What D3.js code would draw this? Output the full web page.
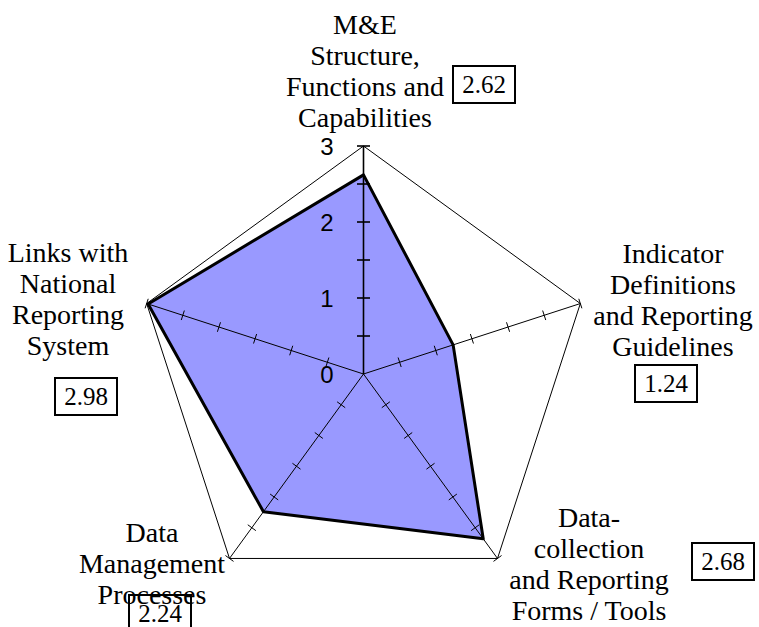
<!DOCTYPE html>
<html>
<head>
<meta charset="utf-8">
<script src="https://cdn.jsdelivr.net/npm/d3@7"></script>
<style>
  html, body { margin: 0; padding: 0; background: #fff; }
  svg { display: block; }
</style>
</head>
<body>
<svg id="chart" width="759" height="627"></svg>
<script>
// ---- data ----
const categories = [
  ["M&E", "Structure,", "Functions and", "Capabilities"],
  ["Indicator", "Definitions", "and Reporting", "Guidelines"],
  ["Data-", "collection", "and Reporting", "Forms / Tools"],
  ["Data", "Management", "Processes"],
  ["Links with", "National", "Reporting", "System"]
];
const values = [2.62, 1.24, 2.68, 2.24, 2.98];
const valueLabels = ["2.62", "1.24", "2.68", "2.24", "2.98"];
const axisTickLabels = [0, 1, 2, 3];
const minorTicks = [0.5, 1, 1.5, 2, 2.5, 3];

// ---- layout (positions, not data) ----
const cx = 363.5, cy = 374, R = 228;
const labelLayout = [
  { x: 365, y: 34 },
  { x: 673, y: 263 },
  { x: 589, y: 527 },
  { x: 152, y: 542 },
  { x: 68,  y: 262 }
];
const boxLayout = [
  { x: 453, y: 66 },
  { x: 635, y: 365 },
  { x: 692, y: 543 },
  { x: 129, y: 595 },
  { x: 55,  y: 378 }
];

const svg = d3.select("#chart");
const g = svg.append("g").attr("transform", `translate(${cx},${cy})`);

const r = d3.scaleLinear().domain([0, 3]).range([0, R]);
const n = categories.length;
const angle = d3.scaleLinear().domain([0, n]).range([0, 2 * Math.PI]);
const pt = (i, v) => {
  const a = angle(i);
  return [Math.sin(a) * r(v), -Math.cos(a) * r(v)];
};

// data polygon (fill)
const radial = d3.lineRadial()
  .angle((d, i) => angle(i))
  .radius(d => r(d))
  .curve(d3.curveLinearClosed);

g.append("path")
  .attr("d", radial(values))
  .attr("fill", "#9999ff")
  .attr("stroke", "none");

// outer pentagon
g.append("path")
  .attr("d", radial(categories.map(() => 3)))
  .attr("fill", "none")
  .attr("stroke", "#000")
  .attr("stroke-width", 1);

// spokes + ticks
categories.forEach((c, i) => {
  const [x2, y2] = pt(i, 3);
  g.append("line")
    .attr("x1", 0).attr("y1", 0).attr("x2", x2).attr("y2", y2)
    .attr("stroke", "#000")
    .attr("stroke-width", i === 0 ? 1.6 : 1);
  const a = angle(i);
  const px = Math.cos(a), py = Math.sin(a); // perpendicular
  const half = i === 0 ? 6.5 : 5;
  minorTicks.forEach(t => {
    const [x, y] = pt(i, t);
    g.append("line")
      .attr("x1", x - px * half).attr("y1", y - py * half)
      .attr("x2", x + px * half).attr("y2", y + py * half)
      .attr("stroke", "#000")
      .attr("stroke-width", i === 0 ? 1.6 : 1);
  });
});

// data polygon outline
g.append("path")
  .attr("d", radial(values))
  .attr("fill", "none")
  .attr("stroke", "#000")
  .attr("stroke-width", 3)
  .attr("stroke-linejoin", "round");

// value axis labels via d3 axis
const yAxisScale = d3.scaleLinear().domain([0, 3]).range([0, -R]);
const yAxis = d3.axisLeft(yAxisScale)
  .tickValues(axisTickLabels)
  .tickSize(0)
  .tickPadding(30)
  .tickFormat(d3.format("d"));
const ax = g.append("g").call(yAxis);
ax.select(".domain").remove();
ax.selectAll("text")
  .attr("font-family", "'Liberation Sans', Arial, sans-serif")
  .attr("font-size", 24)
  .attr("fill", "#000")
  .attr("dy", "0.36em");

// category labels
const serif = "'Liberation Serif', 'Times New Roman', serif";
categories.forEach((lines, i) => {
  const L = labelLayout[i];
  const t = svg.append("text")
    .attr("font-family", serif)
    .attr("font-size", 28)
    .attr("text-anchor", "middle")
    .attr("fill", "#000");
  lines.forEach((ln, k) => {
    t.append("tspan").attr("x", L.x).attr("y", L.y + k * 31).text(ln);
  });
});

// value boxes
valueLabels.forEach((v, i) => {
  const B = boxLayout[i];
  const w = 62, h = 37;
  svg.append("rect")
    .attr("x", B.x).attr("y", B.y).attr("width", w).attr("height", h)
    .attr("fill", "none").attr("stroke", "#000").attr("stroke-width", 2);
  svg.append("text")
    .attr("x", B.x + w / 2).attr("y", B.y + h / 2)
    .attr("dy", "0.35em")
    .attr("text-anchor", "middle")
    .attr("font-family", serif)
    .attr("font-size", 25)
    .attr("fill", "#000")
    .text(v);
});
</script>
</body>
</html>
